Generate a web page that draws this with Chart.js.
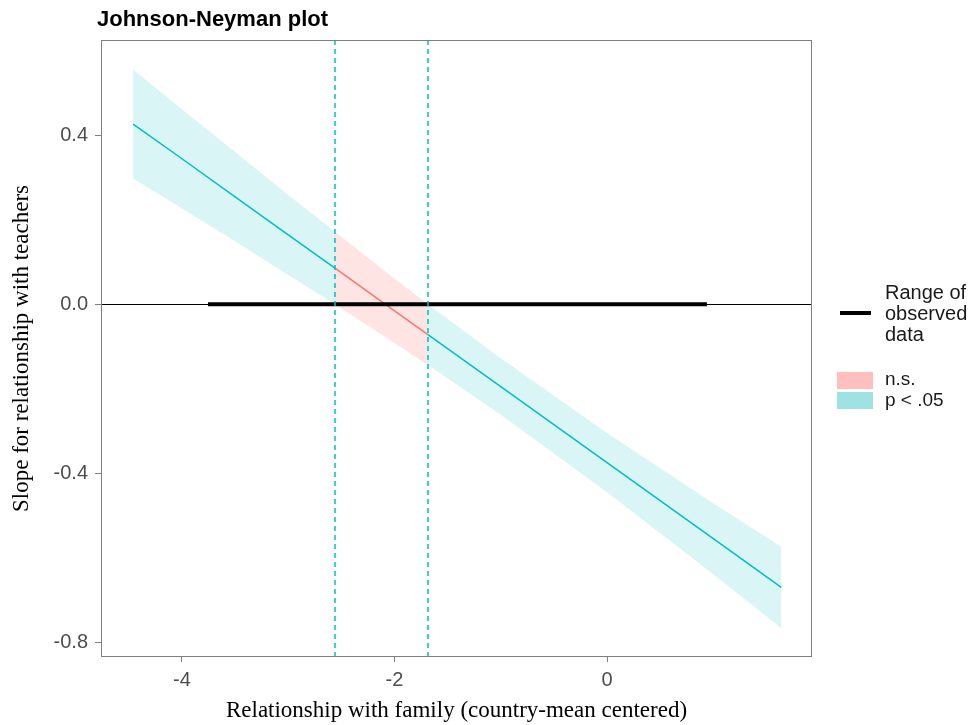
<!DOCTYPE html>
<html>
<head>
<meta charset="utf-8">
<script src="https://cdn.jsdelivr.net/npm/chart.js@4.4.1/dist/chart.umd.min.js"></script>
<style>
  body { margin: 0; background: #fff; }
  #wrap { position: relative; width: 971px; height: 725px; }
  #plot-title { position: absolute; left: 97px; top: 8px; font: bold 22px/22px "Liberation Sans", Arial, sans-serif; color: #000; }
  .leg { position: absolute; font-family: "Liberation Sans", Arial, sans-serif; color: #1a1a1a; white-space: nowrap; }
</style>
</head>
<body>
<div id="wrap">
  <canvas id="jn-plot" width="971" height="725"></canvas>
  <div id="plot-title">Johnson-Neyman plot</div>
  <div class="leg" style="left:840px;top:311px;width:31px;height:4px;background:#000"></div>
  <div class="leg" style="left:885px;top:282px;font-size:20px;line-height:21px">Range of<br>observed<br>data</div>
  <div class="leg" style="left:837px;top:372px;width:36px;height:17px;background:#ffbfbf"></div>
  <div class="leg" style="left:837px;top:392px;width:36px;height:17px;background:#9fe2e3"></div>
  <div class="leg" style="left:885px;top:369px;font-size:19px;line-height:20px">n.s.</div>
  <div class="leg" style="left:885px;top:390px;font-size:19px;line-height:20px">p &lt; .05</div>
</div>
<script>
// moderator values (x) and slope estimate with its 95% band
const xs = [-4.46, -4, -3.5, -3, -2.56, -2, -1.685, -1, 0, 1, 1.64];
const slope = [0.426, 0.344, 0.254, 0.164, 0.085, -0.016, -0.072, -0.195, -0.375, -0.555, -0.670];
const upper = [0.555, 0.461, 0.360, 0.258, 0.171, 0.060, 0.000, -0.128, -0.305, -0.471, -0.574];
const lower = [0.297, 0.226, 0.149, 0.069, 0.000, -0.092, -0.144, -0.262, -0.445, -0.639, -0.767];
const jnBounds = [-2.56, -1.685];
const observedRange = [-3.755, 0.94];
const xTicks = [-4, -2, 0];
const yTicks = [0.4, 0.0, -0.4, -0.8];

const cyan = '#00BFC4';
const red = '#F8766D';

function pts(vals, lo, hi) {
  const out = [];
  xs.forEach((x, i) => { if (x >= lo && x <= hi) out.push({x: x, y: vals[i]}); });
  return out;
}
const segs = [
  {lo: -Infinity, hi: jnBounds[0], col: cyan, fill: 'rgba(0,191,196,0.15)'},
  {lo: jnBounds[0], hi: jnBounds[1], col: red, fill: 'rgba(248,118,109,0.2)'},
  {lo: jnBounds[1], hi: Infinity, col: cyan, fill: 'rgba(0,191,196,0.15)'}
];

const datasets = [{
  data: observedRange.map(x => ({x: x, y: 0})),
  borderColor: '#000', borderWidth: 4, pointRadius: 0, fill: false
}];
segs.forEach(s => {
  datasets.push({data: pts(slope, s.lo, s.hi), borderColor: s.col, borderWidth: 1.5, pointRadius: 0, fill: false});
});
segs.forEach(s => {
  datasets.push({data: pts(upper, s.lo, s.hi), borderWidth: 0, borderColor: 'transparent', pointRadius: 0, backgroundColor: s.fill, fill: '+1'});
  datasets.push({data: pts(lower, s.lo, s.hi), borderWidth: 0, borderColor: 'transparent', pointRadius: 0, fill: false});
});

const extras = {
  id: 'extras',
  afterDatasetsDraw(chart) {
    const {ctx, chartArea: a, scales: {x, y}} = chart;
    ctx.save();
    ctx.strokeStyle = '#000';
    ctx.lineWidth = 1;
    const y0 = Math.round(y.getPixelForValue(0)) + 0.5;
    ctx.beginPath(); ctx.moveTo(a.left, y0); ctx.lineTo(a.right, y0); ctx.stroke();
    ctx.strokeStyle = cyan;
    ctx.lineWidth = 1.5;
    ctx.setLineDash([5, 4]);
    jnBounds.forEach(b => {
      const px = x.getPixelForValue(b);
      ctx.beginPath(); ctx.moveTo(px, a.top); ctx.lineTo(px, a.bottom); ctx.stroke();
    });
    ctx.restore();
  },
  afterDraw(chart) {
    const {ctx, chartArea: a} = chart;
    ctx.save();
    ctx.strokeStyle = '#7f7f7f';
    ctx.lineWidth = 1;
    ctx.strokeRect(a.left + 0.5, a.top + 0.5, a.right - a.left - 1, a.bottom - a.top - 1);
    ctx.restore();
  }
};

new Chart(document.getElementById('jn-plot'), {
  type: 'line',
  data: {datasets: datasets},
  plugins: [extras],
  options: {
    responsive: false,
    animation: false,
    devicePixelRatio: 1,
    layout: {padding: {left: 0, right: 159, top: 40, bottom: 0}},
    plugins: {legend: {display: false}, tooltip: {enabled: false}},
    scales: {
      x: {
        type: 'linear', min: -4.762, max: 1.929,
        afterBuildTicks: s => { s.ticks = xTicks.map(v => ({value: v})); },
        afterFit: s => { s.height = 68; },
        grid: {drawOnChartArea: false, drawTicks: true, tickLength: 5, color: '#7f7f7f'},
        border: {display: false},
        ticks: {padding: 6, color: '#4d4d4d', font: {family: 'Liberation Sans', size: 20}, callback: v => String(v)},
        title: {display: true, text: 'Relationship with family (country-mean centered)', color: '#000',
                font: {family: 'Liberation Serif', size: 23}, padding: {top: 0, bottom: 0}}
      },
      y: {
        type: 'linear', min: -0.835, max: 0.625,
        afterBuildTicks: s => { s.ticks = yTicks.map(v => ({value: v})); },
        afterFit: s => { s.width = 101; },
        grid: {drawOnChartArea: false, drawTicks: true, tickLength: 6, color: '#7f7f7f'},
        border: {display: false},
        ticks: {padding: 7, color: '#4d4d4d', font: {family: 'Liberation Sans', size: 20}, callback: v => v.toFixed(1)},
        title: {display: true, text: 'Slope for relationship with teachers', color: '#000',
                font: {family: 'Liberation Serif', size: 23}, padding: {top: 8, bottom: 0}}
      }
    }
  }
});
</script>
</body>
</html>
